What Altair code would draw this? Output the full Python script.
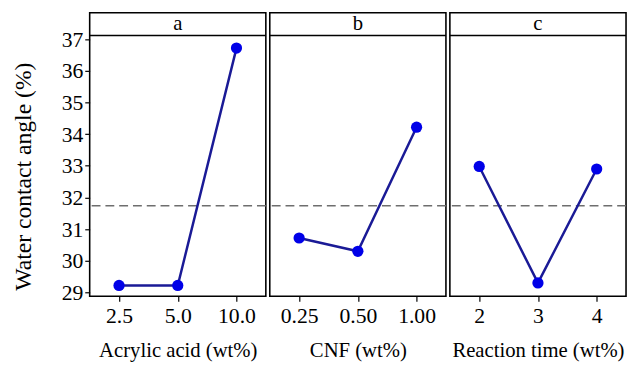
import altair as alt
import pandas as pd

panel_labels = ["a", "b", "c"]
x_titles = ["Acrylic acid (wt%)", "CNF (wt%)", "Reaction time (wt%)"]
levels = [["2.5", "5.0", "10.0"], ["0.25", "0.50", "1.00"], ["2", "3", "4"]]
values = [[29.22, 29.22, 36.72], [30.72, 30.30, 34.22], [32.98, 29.30, 32.90]]
mean_value = 31.74
y_ticks = [29, 30, 31, 32, 33, 34, 35, 36, 37]
y_low, y_high = 28.88, 37.12        # data area of each panel
header_top = 37.835                 # header strip sits above the data area
header_mid = 37.48

FONT = "Liberation Serif"
PW, PH = 179, 288

panels = []
for i in range(3):
    df = pd.DataFrame({"level": levels[i], "angle": values[i]})
    mean_df = pd.DataFrame({"angle": [mean_value]})
    strip_df = pd.DataFrame({"angle": [y_high]})
    head_df = pd.DataFrame({"angle": [header_mid], "h": [panel_labels[i]]})
    if i == 0:
        y_axis = alt.Axis(values=y_ticks, title="Water contact angle (%)", tickSize=5,
                          labelPadding=2, titlePadding=26, titleFontSize=24,
                          labelFont=FONT, titleFont=FONT, labelFontSize=22,
                          labelColor="black", titleColor="black", tickColor="black",
                          tickWidth=1.2, titleFontWeight="normal", domain=False,
                          grid=False, titleY=166)
    else:
        y_axis = alt.Axis(values=y_ticks, title=None, labels=False, ticks=False,
                          domain=False, grid=False)
    x = alt.X("level:N", sort=levels[i], title=x_titles[i],
              axis=alt.Axis(labelAngle=0, tickSize=5, labelPadding=5, titlePadding=13,
                            labelFont=FONT, titleFont=FONT, labelFontSize=22,
                            titleFontSize=21, labelColor="black", titleColor="black",
                            tickColor="black", tickWidth=1.2, titleFontWeight="normal",
                            domain=False, grid=False))
    y = alt.Y("angle:Q", scale=alt.Scale(domain=[y_low, header_top], nice=False, zero=False),
              axis=y_axis)
    line = alt.Chart(df).mark_line(color="#1a1a96", strokeWidth=2.5).encode(x=x, y=y)
    pts = alt.Chart(df).mark_point(filled=True, color="#0000e8", size=130, opacity=1).encode(x=x, y=y)
    rule = alt.Chart(mean_df).mark_rule(
        color="#6e6e6e", strokeDash=[9, 5], strokeWidth=1.6).encode(y=y)
    strip = alt.Chart(strip_df).mark_rule(color="black", strokeWidth=1.6).encode(y=y)
    head = alt.Chart(head_df).mark_text(font=FONT, fontSize=21, color="black",
                                        baseline="middle", align="center").encode(
        y=y, text="h:N")
    panels.append(alt.layer(rule, line, pts, strip, head).properties(width=PW, height=PH))

chart = alt.hconcat(*panels, spacing=0).properties(
    padding={"left": 3, "top": 1, "right": 0, "bottom": 0}
).configure_view(stroke="black", strokeWidth=1.6)

chart.save("out.html", embed_options={"renderer": "svg", "actions": False})
